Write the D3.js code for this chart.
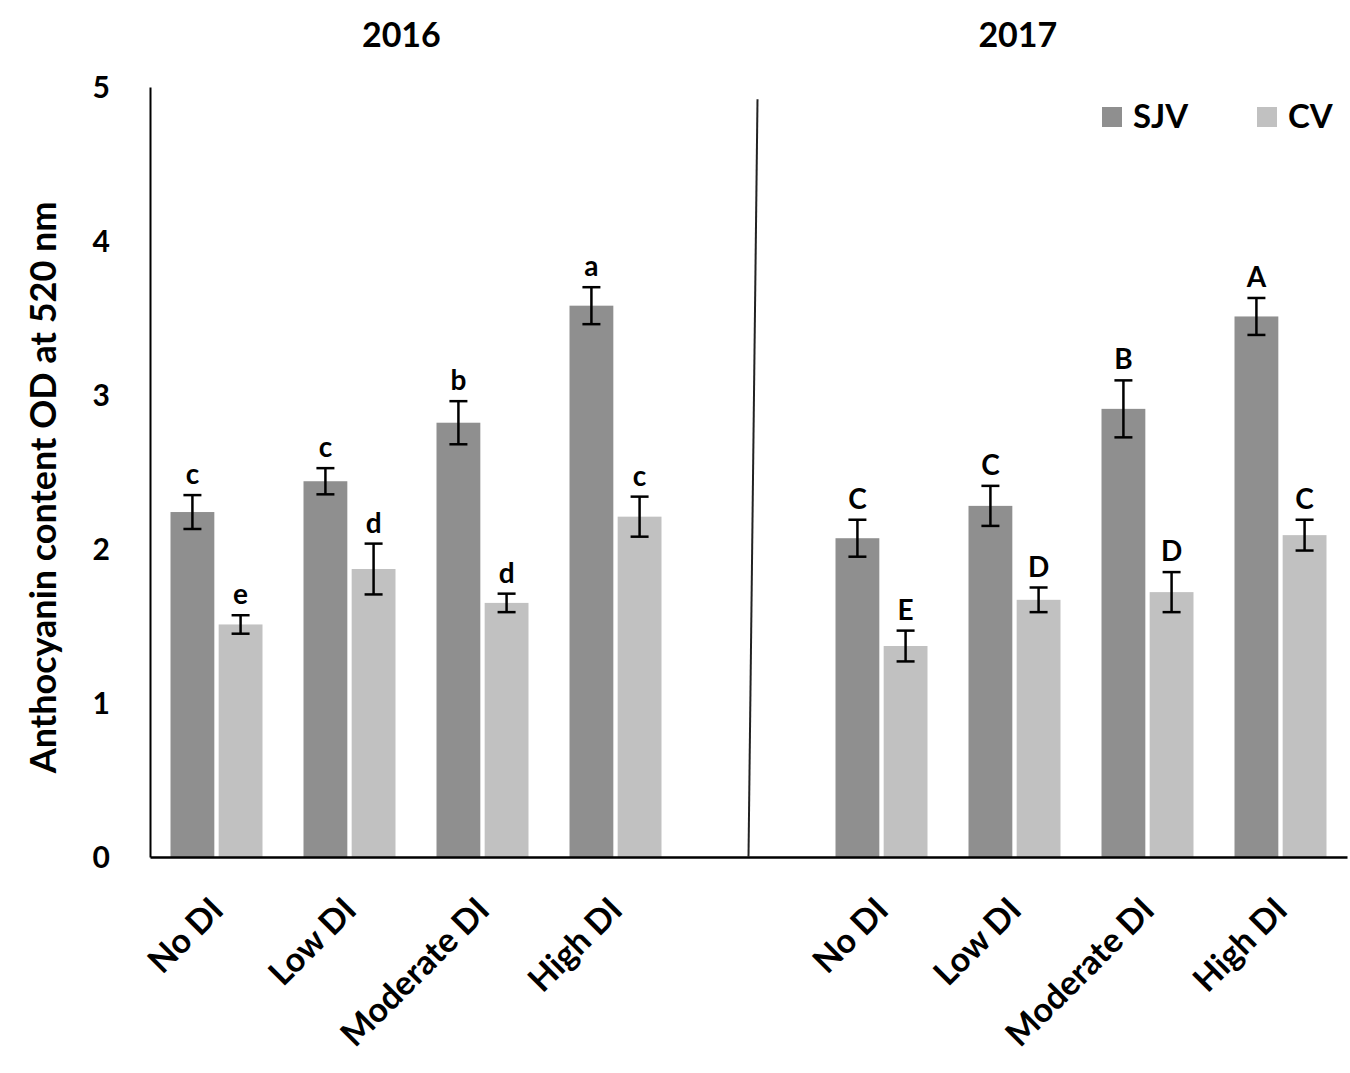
<!DOCTYPE html>
<html>
<head>
<meta charset="utf-8">
<script src="https://cdn.jsdelivr.net/npm/d3@7"></script>
<style>
  body { margin: 0; background: #fff; }
  text { font-family: Lato, "Open Sans", sans-serif; font-weight: bold; fill: #000; }
</style>
</head>
<body>
<svg width="1350" height="1073"></svg>
<script>
const categories = ["No DI", "Low DI", "Moderate DI", "High DI"];
const years = ["2016", "2017"];
const series = ["SJV", "CV"];

// values (OD at 520 nm) and error bar half-heights
const sjv2016 = [2.24, 2.44, 2.82, 3.58];
const sjv2016Err = [0.11, 0.085, 0.14, 0.12];
const cv2016 = [1.51, 1.87, 1.65, 2.21];
const cv2016Err = [0.06, 0.165, 0.06, 0.13];
const sjv2017 = [2.07, 2.28, 2.91, 3.51];
const sjv2017Err = [0.12, 0.13, 0.185, 0.12];
const cv2017 = [1.37, 1.67, 1.72, 2.09];
const cv2017Err = [0.10, 0.08, 0.13, 0.10];

// significance letters
const sjv2016Lbl = ["c", "c", "b", "a"];
const cv2016Lbl = ["e", "d", "d", "c"];
const sjv2017Lbl = ["C", "C", "B", "A"];
const cv2017Lbl = ["E", "D", "D", "C"];

const yTicks = [0, 1, 2, 3, 4, 5];

const svg = d3.select("svg");
const margin = {top: 87, right: 3, bottom: 216, left: 150};
const width = 1350 - margin.left - margin.right,
      height = 1073 - margin.top - margin.bottom;

const g = svg.append("g").attr("transform", `translate(${margin.left},${margin.top})`);

// one slot per category, plus an empty slot between the two years
const slots = [];
years.forEach((yr, i) => {
  if (i > 0) slots.push("gap");
  categories.forEach(c => slots.push(yr + "|" + c));
});

const x = d3.scaleBand().domain(slots).range([0, width]);
const xs = d3.scaleBand().domain(series).range([-46, 46]).paddingInner(0.09);
const y = d3.scaleLinear().domain([0, 5]).range([height, 0]);
const color = d3.scaleOrdinal().domain(series).range(["#8f8f8f", "#c1c1c1"]);

const rows = [];
const tables = {
  "2016": {SJV: [sjv2016, sjv2016Err, sjv2016Lbl], CV: [cv2016, cv2016Err, cv2016Lbl]},
  "2017": {SJV: [sjv2017, sjv2017Err, sjv2017Lbl], CV: [cv2017, cv2017Err, cv2017Lbl]}
};
years.forEach(yr => {
  categories.forEach((c, i) => {
    series.forEach(s => {
      const t = tables[yr][s];
      rows.push({slot: yr + "|" + c, key: s, value: t[0][i], err: t[1][i], lbl: t[2][i]});
    });
  });
});

// bars
const bars = g.append("g").selectAll("g")
  .data(rows)
  .join("g")
    .attr("transform", d => `translate(${x(d.slot) + x.bandwidth() / 2 + xs(d.key)},0)`);

bars.append("rect")
  .attr("y", d => y(d.value))
  .attr("width", xs.bandwidth())
  .attr("height", d => height - y(d.value))
  .attr("fill", d => color(d.key));

// error bars
const cap = 9;
bars.each(function(d) {
  const b = d3.select(this), cx = xs.bandwidth() / 2;
  const top = y(d.value + d.err), bot = y(d.value - d.err);
  b.append("line").attr("x1", cx).attr("x2", cx).attr("y1", top).attr("y2", bot);
  b.append("line").attr("x1", cx - cap).attr("x2", cx + cap).attr("y1", top).attr("y2", top);
  b.append("line").attr("x1", cx - cap).attr("x2", cx + cap).attr("y1", bot).attr("y2", bot);
  b.selectAll("line").attr("stroke", "#000").attr("stroke-width", 2.5);
  b.append("text")
    .attr("x", cx)
    .attr("y", top - 11)
    .attr("text-anchor", "middle")
    .style("font-size", "28px")
    .text(d.lbl);
});

// axes
const yAxis = g.append("g")
  .call(d3.axisLeft(y).tickValues(yTicks).tickSize(0).tickSizeOuter(0).tickPadding(40).tickFormat(d3.format("d")));
yAxis.select(".domain").attr("stroke", "#000").attr("stroke-width", 2);
yAxis.selectAll("text").style("font-size", "30px").attr("dy", "0.36em");

const xAxis = g.append("g")
  .attr("transform", `translate(0,${height})`)
  .call(d3.axisBottom(x).tickSize(0).tickSizeOuter(0).tickFormat(d => d === "gap" ? "" : d.split("|")[1]));
xAxis.select(".domain").attr("stroke", "#000").attr("stroke-width", 2.5);
xAxis.selectAll("text")
  .style("font-size", "34px")
  .attr("text-anchor", "end")
  .attr("dy", 0)
  .attr("y", 0)
  .attr("transform", "translate(9,55) rotate(-45)");

// divider between the two years
const mid = x("gap") + x.bandwidth() / 2;
g.append("line")
  .attr("x1", mid + 9).attr("y1", y(4.92))
  .attr("x2", mid).attr("y2", height)
  .attr("stroke", "#222").attr("stroke-width", 2);

// year titles, placed within each year's panel
const panels = [[0, mid], [mid, width]];
const titlePos = [0.42, 0.45];
years.forEach((yr, i) => {
  const [a, b] = panels[i];
  svg.append("text")
    .attr("x", margin.left + a + (b - a) * titlePos[i])
    .attr("y", 47)
    .attr("text-anchor", "middle")
    .style("font-size", "34px")
    .text(yr);
});

// y label
svg.append("text")
  .attr("transform", `translate(56,${margin.top + y(2.4)}) rotate(-90)`)
  .attr("text-anchor", "middle")
  .style("font-size", "36px")
  .text("Anthocyanin content OD at 520 nm");

// legend
const legend = svg.append("g").attr("transform", "translate(1102,107)");
series.forEach((s, i) => {
  const lg = legend.append("g").attr("transform", `translate(${i * 155},0)`);
  lg.append("rect").attr("width", 20).attr("height", 20).attr("fill", color(s));
  lg.append("text").attr("x", 31).attr("y", 21).style("font-size", "33px").text(s);
});
</script>
</body>
</html>
